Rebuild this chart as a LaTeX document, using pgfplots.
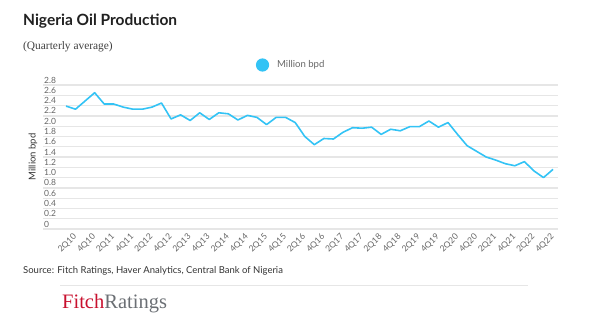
\documentclass[border=0pt]{standalone}
\usepackage{pgfplots}
\usepackage{pgfplotstable}
\pgfplotsset{compat=1.18}
\usepackage{fontspec}
\setmainfont{Lato}
\newfontfamily\seriffont{Liberation Serif}
\definecolor{oil}{HTML}{33C3F5}
\definecolor{gridc}{HTML}{E6E6E6}
\definecolor{lab}{HTML}{666666}
\definecolor{fitchred}{HTML}{C8102E}
\definecolor{fitchgray}{HTML}{6B6F74}
\pgfplotstableread{
i v
0 2.39
1 2.33
2 2.49
3 2.65
4 2.43
5 2.43
6 2.37
7 2.33
8 2.33
9 2.37
10 2.45
11 2.14
12 2.22
13 2.11
14 2.26
15 2.13
16 2.26
17 2.24
18 2.12
19 2.21
20 2.17
21 2.03
22 2.17
23 2.17
24 2.07
25 1.80
26 1.64
27 1.76
28 1.75
29 1.88
30 1.97
31 1.96
32 1.98
33 1.84
34 1.94
35 1.91
36 1.99
37 1.99
38 2.10
39 1.98
40 2.07
41 1.84
42 1.62
43 1.51
44 1.40
45 1.34
46 1.27
47 1.23
48 1.31
49 1.13
50 1.00
51 1.16
}\oiltable
\begin{document}
\begin{tikzpicture}[x=1bp,y=1bp]
\useasboundingbox (0,0) rectangle (606,-326);
\node[anchor=base west, inner sep=0, text=black!87] at (23,-25.7) {\fontsize{15.5bp}{18bp}\selectfont\bfseries Nigeria Oil Production};
\node[anchor=base west, inner sep=0, text=black!75] at (23,-49) {\seriffont\fontsize{11.4bp}{13bp}\selectfont (Quarterly average)};
\node[anchor=base west, inner sep=0, text=black!80] at (23,-273) {\fontsize{9.5bp}{11bp}\selectfont Source: Fitch Ratings, Haver Analytics, Central Bank of Nigeria};
\draw[gridc, line width=1.5bp] (60,-285.7) -- (528,-285.7);
\node[anchor=base west, inner sep=0] at (62,-308.3) {\seriffont\fontsize{20.5bp}{22bp}\selectfont\textcolor{fitchred}{Fitch}\textcolor{fitchgray}{Ratings}};
\begin{axis}[
  at={(43bp,-229bp)}, anchor=south west, scale only axis,
  width=515bp, height=144bp,
  xmin=-2.41, xmax=51.52, ymin=0, ymax=2.8,
  axis line style={draw=none},
  major tick length=0pt,
  ymajorgrids,
  grid style={gridc, line width=1.3bp},
  ytick={0,0.2,0.4,0.6,0.8,1.0,1.2,1.4,1.6,1.8,2.0,2.2,2.4,2.6,2.8},
  yticklabels={0,0.2,0.4,0.6,0.8,1.0,1.2,1.4,1.6,1.8,2.0,2.2,2.4,2.6,2.8},
  yticklabel style={anchor=base west, inner sep=0pt, xshift=1bp, yshift=2bp, text=lab, font=\fontsize{8.5bp}{10bp}\selectfont},
  xtick={1,3,...,51},
  xticklabels={2Q10,4Q10,2Q11,4Q11,2Q12,4Q12,2Q13,4Q13,2Q14,4Q14,2Q15,4Q15,2Q16,4Q16,2Q17,4Q17,2Q18,4Q18,2Q19,4Q19,2Q20,4Q20,2Q21,4Q21,2Q22,4Q22},
  xticklabel style={xshift=-0.4bp, yshift=-6.5bp, rotate=45, anchor=east, inner sep=0pt, text=lab, font=\fontsize{8.5bp}{10bp}\selectfont},
  ylabel={Million bpd},
  ylabel style={at={(axis description cs:-0.0194,0.5)}, anchor=center, text=black!80, font=\fontsize{9.5bp}{11bp}\selectfont},
  legend style={at={(0.48,1.139)}, anchor=center, draw=none, fill=none, text=lab, font=\fontsize{9.6bp}{11bp}\selectfont, nodes={inner sep=0pt}, /tikz/every odd column/.append style={column sep=8bp}},
  legend image code/.code={\fill[oil] (0bp,0bp) circle (5.8bp);},
]
\addplot[oil, line width=1.6bp, line join=round] table[x=i, y=v] {\oiltable};
\addlegendentry{Million bpd}
\end{axis}
\end{tikzpicture}
\end{document}
